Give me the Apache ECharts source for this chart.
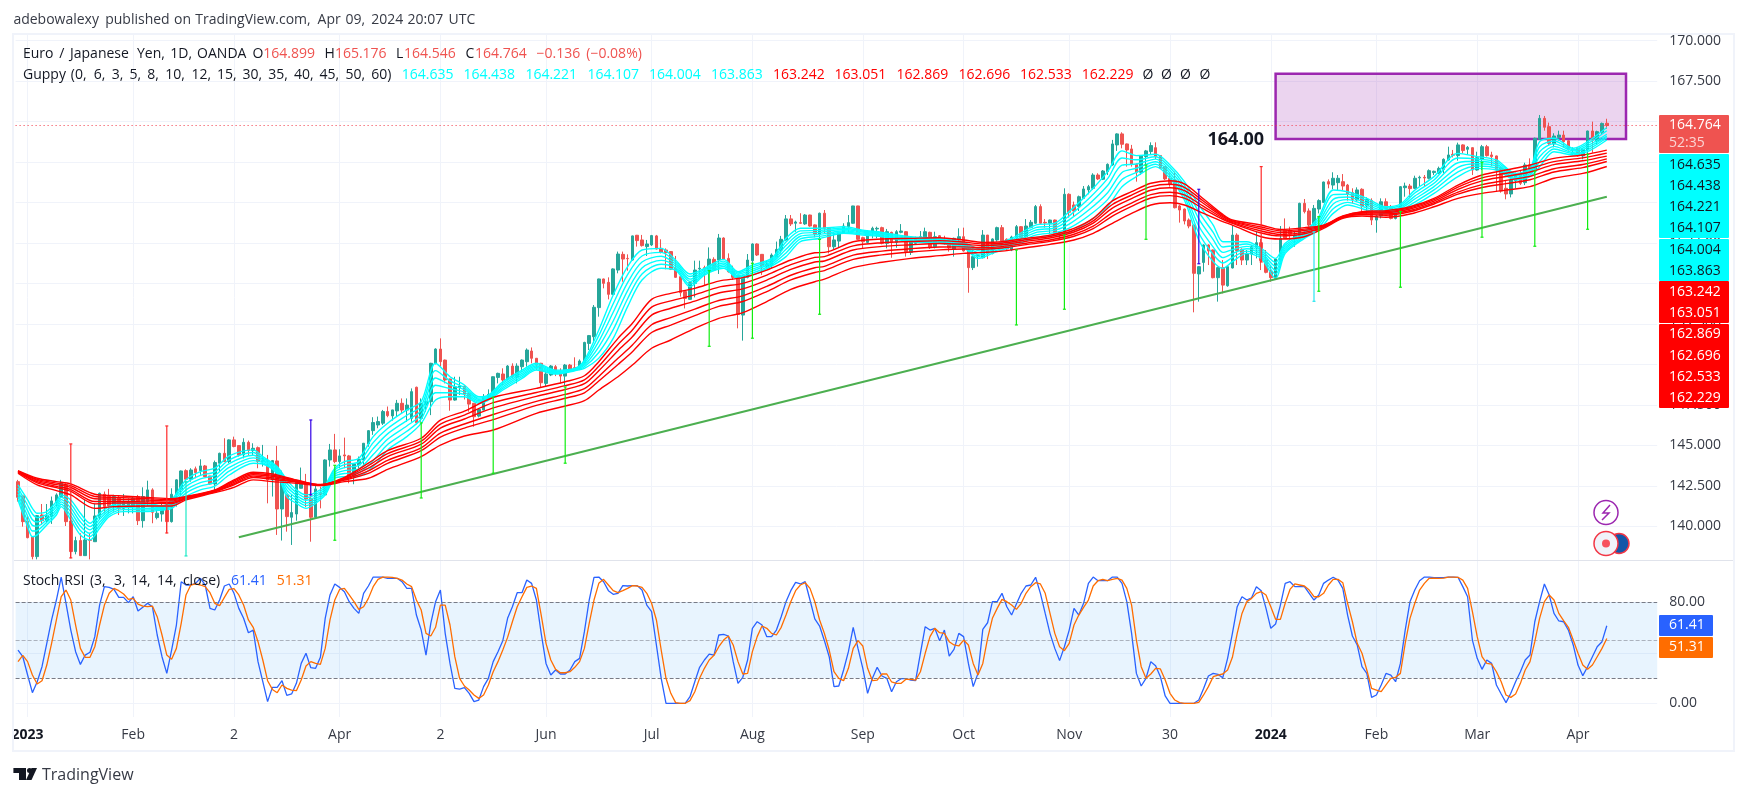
<!DOCTYPE html>
<html>
<head>
<meta charset="utf-8">
<title>EUR/JPY 1D</title>
<script src="https://cdn.jsdelivr.net/npm/echarts@6/dist/echarts.min.js"></script>
<style>
  html, body { margin: 0; padding: 0; background: #fff; }
  #chart1 { width: 1747px; height: 796px; }
</style>
</head>
<body>
<div id="chart1"></div>
<script>
// Velas diarias EUR/JPY: [open, close, low, high]
const velas = [
[142.76,141.79,141.53,142.87],[141.88,140.29,139.98,141.94],[140.33,139.30,139.26,140.70],[139.34,138.13,137.96,139.36],[138.13,140.66,137.96,140.70],
[140.70,140.35,140.08,141.38],[140.35,140.64,140.19,141.38],[140.60,141.57,140.15,141.84],[141.53,141.94,141.22,142.04],[141.84,142.66,141.79,142.87],
[142.56,140.29,140.02,142.66],[140.33,138.44,138.03,140.50],[138.44,139.12,138.27,139.36],[139.12,138.19,138.19,139.57],[138.19,139.16,138.19,141.67],
[139.16,139.14,137.96,139.57],[139.05,140.64,139.05,141.42],[140.60,142.04,140.39,142.08],[141.98,141.22,140.80,142.15],[141.84,141.26,140.80,142.31],
[141.22,141.84,140.91,141.94],[141.77,141.11,140.70,141.88],[141.11,141.53,140.64,142.00],[141.18,141.53,140.80,141.73],[141.22,141.73,140.80,141.84],
[141.84,140.35,140.08,141.94],[140.35,141.84,139.92,142.41],[141.53,142.25,141.22,142.82],[142.25,140.87,140.19,142.35],[140.54,140.81,140.43,141.11],
[140.76,141.26,140.29,141.42],[141.22,140.29,139.57,141.30],[140.29,141.98,140.23,142.35],[141.98,142.87,141.22,142.91],[142.29,143.42,141.94,143.45],
[143.44,142.91,142.66,143.52],[142.91,143.48,142.76,143.59],[143.55,143.32,142.97,143.69],[143.44,143.73,143.18,144.14],[143.73,143.07,143.03,143.79],
[143.11,142.62,142.56,143.11],[142.62,143.94,142.14,144.06],[143.90,144.51,143.38,144.55],[144.51,144.00,144.00,145.44],[144.00,145.34,143.90,145.38],
[145.34,144.93,144.88,145.54],[144.99,144.41,144.31,145.00],[144.41,145.19,144.20,145.44],[145.19,144.68,144.41,145.30],[144.68,144.82,144.41,145.13],
[144.86,144.00,143.59,144.93],[144.00,144.10,143.69,145.03],[143.75,142.87,141.42,144.41],[142.87,144.06,141.84,144.10],[144.04,141.07,139.47,144.97],
[141.07,142.76,139.12,143.44],[141.94,140.60,139.67,141.98],[140.56,140.85,138.85,141.94],[140.76,142.76,140.35,142.80],[142.35,142.76,142.35,143.63],
[142.66,141.69,141.18,143.24],[141.73,140.56,139.05,142.62],[140.56,142.31,140.56,142.49],[142.04,141.94,141.11,142.45],[141.94,144.10,141.90,144.14],
[144.10,144.72,143.69,145.09],[144.72,144.00,143.90,145.71],[144.00,144.35,143.59,144.76],[144.41,144.35,143.59,145.48],[144.35,143.11,142.66,144.41],
[143.11,143.85,142.60,143.90],[143.79,144.14,143.59,144.31],[144.10,145.13,143.79,145.15],[145.09,145.91,144.92,145.95],[145.91,146.41,145.65,146.74],
[146.26,146.47,146.06,146.78],[146.37,147.09,146.26,147.19],[147.09,146.84,146.74,147.40],[146.82,147.19,146.53,147.20],[147.13,147.60,146.78,147.81],
[147.60,147.18,147.00,147.90],[147.18,147.49,146.46,147.90],[146.67,148.32,146.46,148.52],[148.59,146.40,146.30,148.63],[146.67,147.60,146.46,147.90],
[147.49,147.70,147.08,147.90],[147.70,150.07,146.87,150.10],[150.07,150.95,150.00,151.00],[150.95,150.17,149.86,151.61],[150.27,149.04,148.83,150.30],
[149.10,147.80,147.14,149.12],[147.80,148.62,147.76,149.24],[148.58,148.66,148.11,149.24],[148.66,148.17,147.84,148.70],[148.21,147.55,147.08,148.25],
[147.60,146.77,146.15,147.62],[146.81,147.22,146.73,147.29],[147.18,148.00,147.18,148.17],[147.96,148.15,147.90,148.46],[148.11,149.24,148.01,149.26],
[149.20,149.45,148.83,149.49],[149.41,149.04,148.73,149.76],[149.08,149.90,149.04,149.96],[149.90,149.24,149.14,150.07],[149.24,149.90,148.83,150.07],
[149.86,150.27,149.55,150.31],[150.17,150.89,149.86,150.99],[150.83,150.38,150.07,151.05],[150.38,149.96,149.65,150.40],[150.07,148.87,148.58,150.10],
[148.83,149.41,148.62,149.61],[149.35,149.90,149.28,149.96],[149.86,149.49,149.28,149.96],[149.55,149.28,148.83,149.76],[149.28,149.96,148.73,150.03],
[149.96,149.65,149.61,150.03],[149.80,149.72,149.65,150.44],[149.72,150.21,149.65,150.31],[150.13,151.36,150.07,151.40],[151.30,151.78,150.89,151.82],
[151.71,153.53,151.40,153.67],[153.51,155.28,152.95,155.30],[155.28,155.01,154.70,155.30],[155.07,154.33,154.02,155.38],[154.33,155.90,154.29,155.94],
[155.83,156.82,155.63,156.97],[156.80,156.51,155.11,156.97],[156.55,156.53,155.79,156.80],[156.45,157.94,156.41,157.96],[157.98,157.65,157.28,158.00],
[157.69,157.34,157.28,158.00],[157.28,157.44,156.70,157.69],[157.38,157.96,157.32,158.00],[157.94,157.13,157.10,158.00],[157.17,156.93,156.86,157.73],
[157.07,156.91,155.88,157.17],[156.97,155.88,155.83,157.00],[155.94,155.38,155.36,156.70],[155.42,154.43,154.19,155.46],[154.50,154.08,153.46,154.50],
[154.02,155.05,153.98,155.07],[155.01,155.83,154.14,156.41],[155.90,155.94,155.42,156.41],[155.98,155.88,154.91,156.10],[155.83,156.51,155.01,157.23],
[156.49,155.83,155.79,156.62],[156.45,157.81,155.59,158.06],[157.81,156.49,156.45,157.85],[156.55,155.73,155.67,156.86],[155.77,155.38,155.22,156.10],
[155.46,153.09,152.23,155.50],[153.05,155.46,151.47,155.50],[155.38,156.45,155.32,156.82],[156.41,157.44,155.73,157.48],[157.44,156.76,156.70,157.48],
[156.80,156.10,155.53,156.82],[156.08,156.20,155.94,156.41],[156.10,156.76,155.94,156.86],[156.66,157.11,156.62,157.59],[157.07,157.73,156.86,157.94],
[157.69,158.99,157.65,159.23],[158.99,158.68,158.55,159.23],[158.72,158.80,158.20,158.88],[158.76,158.72,158.68,159.34],[158.68,159.23,158.62,159.29],
[159.23,158.55,158.51,159.25],[158.62,158.06,157.85,158.65],[158.04,159.34,157.79,159.38],[159.34,158.41,158.10,159.54],[158.41,157.27,156.86,158.45],
[157.27,157.69,157.13,158.16],[157.62,158.10,157.21,158.20],[158.10,158.55,158.08,158.72],[158.51,158.76,158.10,159.23],[158.72,159.79,158.70,159.80],
[159.79,157.73,157.69,159.80],[157.83,157.58,157.13,157.89],[157.54,158.20,157.48,158.30],[158.16,158.41,157.79,158.51],[158.37,158.41,157.79,158.51],
[158.45,157.48,157.42,158.51],[157.48,158.20,157.17,158.37],[158.16,157.58,156.59,158.20],[157.54,158.20,157.21,158.30],[158.16,158.24,158.10,158.67],
[158.20,156.97,156.66,158.24],[156.92,157.69,156.76,157.79],[157.48,157.79,157.42,157.89],[157.79,157.89,157.62,158.24],[157.83,158.20,157.79,158.45],
[158.16,157.21,157.13,158.20],[157.27,157.89,157.17,158.20],[157.95,157.58,157.54,157.99],[157.69,157.48,157.38,157.95],[157.54,157.21,156.97,157.69],
[157.13,157.79,156.66,157.83],[157.69,157.89,157.38,158.41],[157.89,157.01,156.97,158.45],[157.07,155.98,154.43,157.10],[155.98,156.66,155.83,157.07],
[156.66,156.72,156.04,156.76],[156.59,157.99,156.55,158.30],[157.99,156.86,156.51,158.00],[156.86,157.75,156.80,157.79],[157.69,158.45,157.58,158.51],
[158.45,157.62,157.58,158.61],[157.73,157.13,157.07,157.79],[157.07,157.87,157.00,157.95],[157.83,158.51,157.69,158.61],[158.51,157.83,157.79,158.55],
[157.89,158.55,157.83,158.98],[158.47,158.78,158.41,158.92],[158.72,159.75,158.68,159.85],[159.75,158.72,158.68,159.89],[158.78,158.74,158.45,158.98],
[158.72,158.92,158.04,158.95],[158.92,158.10,157.99,158.95],[158.10,158.16,157.69,158.20],[158.16,160.51,157.69,160.88],[160.51,159.40,159.07,160.57],
[159.85,159.48,159.13,160.06],[159.75,160.36,159.48,160.43],[160.26,160.84,160.22,161.02],[160.78,160.98,160.51,161.09],[160.88,161.70,160.78,161.81],
[161.70,161.46,161.39,161.81],[161.44,161.95,161.39,162.01],[161.91,162.36,161.70,162.42],[162.32,163.62,162.28,163.87],[163.56,164.24,163.19,164.28],
[164.24,163.60,163.35,164.34],[163.62,163.25,162.22,163.65],[163.31,162.36,162.22,163.56],[162.36,161.87,161.29,162.42],[161.87,162.90,161.70,162.94],
[162.84,163.19,162.32,163.25],[163.15,163.52,162.94,163.72],[163.39,162.84,162.69,163.72],[162.90,162.12,162.07,162.92],[162.22,161.46,161.39,162.25],
[161.50,161.13,160.98,161.81],[161.39,159.68,159.64,161.91],[159.79,159.54,158.76,159.85],[159.60,158.86,158.65,159.63],[158.92,158.55,158.41,159.02],
[158.61,155.63,153.22,158.65],[155.59,156.04,153.88,156.07],[156.30,157.38,155.73,157.42],[157.38,157.01,156.14,157.42],[157.07,155.36,155.32,157.10],
[155.36,155.98,153.88,156.04],[155.98,154.90,154.39,156.45],[154.86,156.04,154.80,156.07],[155.96,157.99,155.93,158.61],[157.99,157.03,156.14,158.10],
[157.11,156.45,156.14,157.17],[156.45,156.86,156.14,157.07],[156.82,157.27,156.14,157.38],[157.23,157.52,156.55,158.20],[157.52,156.41,155.83,157.75],
[156.45,155.69,155.63,157.07],[155.73,155.36,155.11,156.14],[155.32,156.51,155.30,156.55],[156.45,157.79,156.41,158.55],[158.30,157.79,157.75,159.02],
[158.26,158.05,157.69,158.51],[157.79,157.99,157.27,158.20],[157.89,159.95,157.85,159.99],[159.95,159.44,159.33,160.22],[159.48,158.61,158.51,159.64],
[158.61,159.64,158.51,159.85],[159.60,160.12,159.33,160.20],[160.01,161.27,159.99,161.29],[161.29,161.14,160.88,161.43],[161.08,161.50,160.82,161.87],
[161.23,161.50,160.77,161.70],[161.29,161.02,160.77,161.76],[161.08,160.53,160.12,161.15],[160.61,160.20,159.95,160.88],[160.16,160.78,160.12,160.94],
[160.82,159.79,159.44,160.88],[159.79,160.20,159.23,160.32],[160.12,158.92,158.61,160.26],[158.92,159.17,158.14,159.23],[159.17,160.05,159.02,160.26],
[160.05,159.64,159.58,160.26],[159.70,159.02,158.96,159.85],[159.02,159.58,158.96,159.64],[159.58,160.98,159.54,161.02],[160.92,161.02,160.36,161.23],
[161.02,160.86,160.32,161.15],[160.88,161.50,160.84,161.66],[161.52,161.56,161.02,161.66],[161.56,161.52,160.98,161.70],[161.50,161.97,161.43,162.05],
[161.85,161.93,161.70,161.97],[161.81,162.11,161.76,162.22],[162.05,162.67,161.81,162.73],[162.63,162.94,162.59,163.45],[162.98,162.92,162.79,163.25],
[162.90,163.56,162.59,163.70],[163.56,163.21,163.04,163.60],[163.29,163.41,162.94,163.49],[163.39,162.01,161.70,163.41],[162.01,162.77,161.97,163.14],
[162.69,163.45,162.01,163.56],[163.45,162.90,162.84,163.56],[162.94,162.84,162.26,163.14],[162.88,162.01,160.67,162.90],[162.12,160.71,160.61,162.18],
[160.88,160.53,160.20,161.39],[160.53,161.39,160.32,161.64],[161.35,161.70,160.88,161.85],[161.74,161.19,161.08,161.97],[161.23,162.32,161.08,162.46],
[162.32,162.11,161.97,162.73],[162.07,163.97,161.97,164.01],[163.91,165.20,163.87,165.41],[165.20,164.65,164.44,165.35],[164.69,163.66,163.56,164.94],
[163.62,164.11,163.41,164.28],[164.03,164.17,163.82,164.44],[164.17,163.76,163.41,164.44],[163.82,163.29,163.21,163.86],[163.25,163.31,162.94,163.41],
[163.35,162.90,162.84,163.41],[162.88,163.29,162.67,163.35],[163.25,164.42,162.59,164.44],[164.42,163.86,163.08,165.00],[163.82,164.38,163.56,164.44],
[164.34,164.89,164.24,164.94],[164.899,164.764,164.546,165.176]
];

// Guppy: cada fila es [indice de vela, linea1 ... linea6]
const guppyCyan = [
[0,142.56,142.37,142.19,142.00,141.82,141.63],[2,141.63,141.30,140.97,140.64,140.31,139.98],[3,141.11,140.76,140.41,140.06,139.71,139.36],[4,140.81,140.54,140.27,140.01,139.74,139.47],
[6,140.91,140.74,140.58,140.41,140.25,140.08],[8,141.53,141.36,141.20,141.03,140.87,140.70],[9,141.94,141.80,141.65,141.51,141.36,141.22],[11,141.63,141.38,141.13,140.89,140.64,140.39],
[13,140.81,140.54,140.27,140.01,139.74,139.47],[15,140.19,139.98,139.78,139.57,139.37,139.16],[17,140.81,140.62,140.44,140.25,140.07,139.88],[19,141.22,141.10,140.97,140.85,140.72,140.60],
[22,141.53,141.41,141.28,141.16,141.03,140.91],[27,141.42,141.32,141.22,141.11,141.01,140.91],[30,141.26,141.21,141.16,141.11,141.06,141.01],[32,141.63,141.53,141.42,141.32,141.21,141.11],
[35,142.87,142.66,142.46,142.25,142.05,141.84],[38,143.38,143.15,142.93,142.70,142.48,142.25],[41,143.59,143.37,143.15,142.93,142.71,142.49],[44,144.35,144.11,143.88,143.64,143.41,143.17],
[49,144.72,144.56,144.39,144.23,144.06,143.90],[51,144.31,144.22,144.13,144.03,143.94,143.85],[54,143.69,143.60,143.51,143.42,143.33,143.24],[56,142.87,142.66,142.46,142.25,142.05,141.84],
[58,142.25,142.08,141.92,141.75,141.59,141.42],[60,141.94,141.77,141.61,141.44,141.28,141.11],[62,142.08,141.95,141.82,141.68,141.55,141.42],[64,142.56,142.44,142.31,142.19,142.06,141.94],
[66,143.59,143.47,143.34,143.22,143.09,142.97],[68,144.00,143.81,143.63,143.44,143.26,143.07],[71,144.20,143.98,143.76,143.55,143.33,143.11],[74,145.54,145.17,144.80,144.43,144.06,143.69],
[77,146.37,146.04,145.71,145.38,145.05,144.72],[81,147.19,146.86,146.53,146.20,145.87,145.54],[84,147.70,147.43,147.16,146.90,146.63,146.36],[87,150.07,149.62,149.16,148.71,148.25,147.80],
[90,149.24,148.99,148.74,148.50,148.25,148.00],[93,148.73,148.58,148.44,148.29,148.15,148.00],[96,148.00,147.92,147.84,147.76,147.68,147.60],[98,148.11,148.05,147.99,147.92,147.86,147.80],
[101,148.93,148.83,148.73,148.62,148.52,148.42],[105,149.65,149.55,149.45,149.34,149.24,149.14],[108,150.07,149.99,149.90,149.82,149.73,149.65],[112,149.65,149.60,149.55,149.51,149.46,149.41],
[116,149.76,149.73,149.70,149.67,149.64,149.61],[118,150.27,150.17,150.07,149.96,149.86,149.76],[121,152.13,151.78,151.43,151.09,150.74,150.39],[124,154.29,153.75,153.22,152.68,152.15,151.61],
[127,156.04,155.55,155.05,154.56,154.06,153.57],[130,157.07,156.70,156.33,155.96,155.59,155.22],[134,157.17,156.92,156.68,156.43,156.19,155.94],[137,156.45,156.33,156.20,156.08,155.95,155.83],
[140,155.59,155.43,155.27,155.12,154.96,154.80],[143,155.94,155.86,155.77,155.69,155.60,155.52],[147,156.49,156.38,156.27,156.16,156.05,155.94],[150,155.73,155.65,155.57,155.48,155.40,155.32],
[153,156.14,156.02,155.89,155.77,155.64,155.52],[157,156.55,156.46,156.36,156.27,156.17,156.08],[160,157.79,157.56,157.34,157.11,156.89,156.66],[163,158.41,158.25,158.08,157.92,157.75,157.59],
[167,158.41,158.28,158.16,158.03,157.91,157.78],[172,158.51,158.43,158.35,158.26,158.18,158.10],[176,158.30,158.24,158.18,158.11,158.05,157.99],[180,158.16,158.11,158.05,158.00,157.94,157.89],
[186,157.89,157.83,157.77,157.70,157.64,157.58],[192,157.79,157.73,157.67,157.60,157.54,157.48],[197,157.54,157.47,157.41,157.34,157.28,157.21],[200,157.17,157.05,156.92,156.80,156.67,156.55],
[203,157.38,157.28,157.17,157.07,156.96,156.86],[207,157.79,157.69,157.58,157.48,157.37,157.27],[212,158.61,158.45,158.30,158.14,157.99,157.83],[216,158.72,158.57,158.43,158.28,158.14,157.99],
[219,159.44,159.18,158.93,158.67,158.42,158.16],[223,160.57,160.22,159.87,159.52,159.17,158.82],[227,161.91,161.48,161.05,160.61,160.18,159.75],[230,163.19,162.75,162.31,161.86,161.42,160.98],
[233,162.90,162.64,162.38,162.12,161.86,161.60],[237,162.98,162.83,162.68,162.52,162.37,162.22],[240,162.32,162.16,161.99,161.83,161.66,161.50],[243,161.29,161.06,160.84,160.61,160.39,160.16],
[246,159.85,159.42,158.99,158.55,158.12,157.69],[249,158.61,158.16,157.71,157.25,156.80,156.35],[251,157.58,157.25,156.92,156.60,156.27,155.94],[253,157.58,157.33,157.09,156.84,156.60,156.35],
[256,157.58,157.44,157.29,157.15,157.00,156.86],[259,157.17,157.05,156.92,156.80,156.67,156.55],[262,156.55,156.30,156.06,155.81,155.57,155.32],[264,157.48,157.36,157.23,157.11,156.98,156.86],
[268,158.20,158.12,158.04,157.95,157.87,157.79],[271,159.13,158.96,158.80,158.63,158.47,158.30],[274,160.78,160.49,160.20,159.91,159.62,159.33],[277,160.67,160.51,160.34,160.18,160.01,159.85],
[281,160.26,160.12,159.97,159.83,159.68,159.54],[285,159.74,159.66,159.58,159.49,159.41,159.33],[288,159.91,159.82,159.72,159.63,159.53,159.44],[291,160.77,160.59,160.40,160.22,160.03,159.85],
[295,161.60,161.39,161.19,160.98,160.78,160.57],[300,163.04,162.75,162.46,162.18,161.89,161.60],[304,162.84,162.69,162.55,162.40,162.26,162.11],[308,162.63,162.51,162.38,162.26,162.13,162.01],
[312,161.80,161.72,161.64,161.55,161.47,161.39],[315,162.11,162.01,161.91,161.80,161.70,161.60],[317,163.76,163.45,163.14,162.83,162.52,162.21],[320,163.97,163.80,163.64,163.47,163.31,163.14],
[324,163.35,163.27,163.19,163.10,163.02,162.94],[327,163.76,163.64,163.51,163.39,163.26,163.14],[331,164.635,164.438,164.221,164.107,164.004,163.863]
];

const guppyRed = [
[0,143.44,143.41,143.39,143.36,143.33,143.28],[4,142.97,142.90,142.84,142.76,142.69,142.56],[8,142.76,142.67,142.58,142.47,142.39,142.21],[11,142.62,142.51,142.40,142.27,142.16,141.94],
[16,141.98,141.84,141.70,141.53,141.39,141.11],[20,141.90,141.79,141.68,141.55,141.44,141.22],[27,141.79,141.71,141.62,141.51,141.43,141.26],[32,141.71,141.64,141.57,141.48,141.40,141.26],
[35,141.84,141.81,141.77,141.73,141.70,141.63],[41,142.25,142.22,142.20,142.16,142.13,142.08],[45,142.87,142.80,142.72,142.63,142.56,142.41],[49,143.34,143.26,143.19,143.10,143.02,142.87],
[53,143.24,143.16,143.09,142.99,142.91,142.76],[58,142.87,142.84,142.80,142.76,142.73,142.66],[63,142.58,142.57,142.56,142.55,142.54,142.52],[68,143.03,142.99,142.94,142.89,142.85,142.76],
[73,143.90,143.75,143.60,143.42,143.27,142.97],[77,144.68,144.49,144.31,144.08,143.89,143.52],[84,145.44,145.26,145.08,144.85,144.67,144.31],[88,146.56,146.31,146.07,145.76,145.51,145.02],
[93,147.12,146.87,146.63,146.32,146.07,145.58],[99,147.96,147.64,147.32,146.91,146.59,145.95],[108,148.52,148.27,148.03,147.72,147.47,146.98],[114,148.93,148.69,148.45,148.15,147.91,147.43],
[118,149.30,149.05,148.81,148.50,148.25,147.76],[121,150.17,149.89,149.61,149.26,148.98,148.42],[125,151.61,151.23,150.85,150.38,150.00,149.24],[128,152.54,152.13,151.71,151.20,150.79,149.96],
[132,154.02,153.54,153.05,152.45,151.97,151.00],[136,154.39,153.93,153.47,152.89,152.43,151.51],[141,154.70,154.30,153.91,153.42,153.02,152.23],[146,155.15,154.78,154.41,153.95,153.59,152.85],
[151,155.36,155.01,154.67,154.24,153.89,153.20],[156,155.83,155.52,155.21,154.82,154.50,153.88],[161,156.45,156.16,155.87,155.51,155.22,154.64],[166,156.90,156.61,156.33,155.97,155.68,155.11],
[168,156.92,156.66,156.39,156.06,155.80,155.27],[174,157.58,157.32,157.07,156.75,156.49,155.98],[180,157.75,157.52,157.29,157.00,156.77,156.31],[186,157.79,157.59,157.39,157.15,156.95,156.55],
[192,157.83,157.65,157.47,157.25,157.08,156.72],[197,157.69,157.56,157.42,157.26,157.13,156.86],[201,157.54,157.44,157.34,157.22,157.12,156.92],[205,157.58,157.49,157.39,157.28,157.19,157.00],
[210,157.79,157.70,157.60,157.49,157.40,157.21],[215,157.99,157.90,157.81,157.69,157.60,157.42],[220,158.41,158.29,158.18,158.04,157.92,157.69],[224,159.02,158.87,158.73,158.54,158.39,158.10],
[228,160.10,159.88,159.66,159.38,159.16,158.72],[232,160.67,160.46,160.24,159.97,159.76,159.33],[236,161.19,160.98,160.76,160.49,160.28,159.85],[240,161.35,161.13,160.91,160.64,160.43,159.99],
[243,161.15,160.94,160.73,160.47,160.27,159.85],[247,160.22,160.08,159.94,159.76,159.61,159.33],[251,159.27,159.20,159.13,159.04,158.96,158.82],[253,158.92,158.87,158.82,158.76,158.71,158.61],
[259,158.61,158.49,158.38,158.24,158.12,157.89],[263,158.34,158.25,158.15,158.03,157.94,157.75],[268,158.45,158.36,158.27,158.16,158.07,157.89],[272,158.61,158.58,158.54,158.50,158.47,158.40],
[276,159.17,159.15,159.12,159.09,159.07,159.02],[280,159.44,159.40,159.35,159.30,159.26,159.17],[285,159.50,159.43,159.37,159.29,159.22,159.09],[290,159.74,159.67,159.60,159.51,159.43,159.29],
[295,160.26,160.18,160.09,159.99,159.91,159.74],[300,161.08,160.95,160.82,160.65,160.52,160.26],[305,161.70,161.52,161.34,161.11,160.93,160.57],[310,162.01,161.81,161.61,161.37,161.17,160.77],
[315,162.32,162.11,161.89,161.62,161.41,160.98],[320,162.73,162.53,162.34,162.09,161.89,161.50],[326,162.94,162.76,162.58,162.35,162.16,161.80],[331,163.242,163.051,162.869,162.696,162.533,162.229]
];

// Lineas verticales dibujadas a mano por el autor: [indice, arriba, abajo, color]
const verticales = [
[11,145.09,138.05,'#ff2a2a'],[31,146.20,139.59,'#ff2a2a'],[35,142.76,138.17,'#1de9c6'],[61,146.57,141.94,'#3300e6'],
[66,143.77,139.14,'#11ee11'],[84,146.39,141.75,'#11ee11'],[99,147.97,143.28,'#11ee11'],[114,148.61,143.90,'#11ee11'],
[144,155.79,151.12,'#11ee11'],[153,156.25,151.62,'#11ee11'],[167,157.73,153.10,'#11ee11'],[208,157.07,152.44,'#11ee11'],
[218,158.00,153.41,'#11ee11'],[235,162.32,157.73,'#11ee11'],[246,160.82,156.22,'#3300e6'],[259,162.22,156.33,'#ff2a2a'],
[270,158.20,153.90,'#29e6f0'],[271,159.13,154.52,'#11ee11'],[288,159.44,154.77,'#11ee11'],[305,162.49,157.86,'#11ee11'],
[316,161.95,157.30,'#11ee11'],[327,162.98,158.35,'#11ee11']
];

// Stoch RSI, un valor por vela
const stochK = [
42.2,36.9,22.4,8.4,17.1,29,47.5,66,81.8,100,79.2,58,40.9,30.8,38.2,40.4,52.8,77.8,92.4,91.8,
90.2,83.9,83.9,79.7,84.4,73.1,76,79.2,76.5,54.1,36.9,23.7,42.2,62,96.3,93.7,93.7,95,99,93.7,
75.2,73.9,81.8,92.9,94.5,87.1,75.2,67.3,55.9,58,33,17.1,1.3,12.6,12.6,17.9,6.3,7.4,15.8,31.6,
39.6,28.2,27.7,36.4,67.3,85.8,94.5,91.8,88.4,80.5,75.2,71.2,87.1,92.9,100,100,100,99,99,99,
96.3,91,91,69.9,58,38.2,63.3,80.5,89.7,55.4,31.6,11.8,11.3,12.4,7.9,1.3,2.6,13.2,19.8,33,
40.9,49.6,67.3,76.5,87.6,87.6,97.6,95,81.8,55.4,31.6,22.4,26.4,23.2,23.2,26.4,33,35.6,56.7,81.8,
99.8,100,
96.3,89.2,86.3,87.1,93.2,92.9,93.2,93.2,89.7,77.8,72.6,46.2,19.8,0,0,0,0,0,5.2,17.1,
28.5,34.3,39,38.2,54.1,54.6,53.3,33,15.8,20.6,34.3,59.4,64.6,62,52.8,52.8,58,68.6,80.5,89.2,
95.8,94.5,96.3,81.8,66.8,61.2,49.6,36.9,13.2,13.7,26.4,40.9,60.2,43.5,27.7,7.9,19.8,28.5,21.6,19.8,
9.2,17.1,19.5,19.5,18.4,17.9,39.6,60.7,58,59.4,49.6,58,37.4,42.7,55.4,52.8,31.6,13.2,23.7,58.6,
63.8,80.5,80.5,87.1,76.5,69.9,78.6,87.1,92.9,93.7,99.8,87.1,71.2,55.4,43.5,33.8,44.8,58,75.2,69.9,
79.2,95,100,97.1,97.1,97.1,100,100,95,80.5,55.4,23.7,13.7,19.8,33,29.8,21.1,5.8,0,0,
0,0,0,0,2.6,
11.8,21.6,23.7,22.9,20.3,35.6,55.4,76.5,84.4,81.8,83.6,92.4,89.2,75.2,59.4,62.8,77.8,95,96.3,92.4,
92.4,92.4,87.1,81.8,85.8,95,97.6,99.8,97.6,91,69.9,53.3,46.2,29,23.7,4.7,6.6,14.5,23.7,22.4,
17.1,31.6,58,80.5,89.7,97.1,100,100,99.5,99.5,99.5,100,100,99.8,92.4,84.4,50.1,35.6,26.9,34.3,
31.6,14.5,7.4,0.5,7.9,17.1,25,34.3,38.2,64.6,80.5,94.5,85.8,71.2,65.2,64.6,58,46.2,30.3,21.9,
29,36.9,44.8,48.8,61.41
];
const stochD = [
33,38,33,22.4,15.3,17.9,30.3,47.5,66,84.4,89.7,81.8,62,43.5,36.4,36.4,44.8,62,77.8,87.1,
91,89.2,86.6,82.3,83.1,78.6,77,76.5,77,68.6,54.1,38.2,34.8,43.5,63.3,85.8,93.7,94.5,93.7,92.4,
87.6,79.2,77.3,83.9,90.2,90.8,85.8,77.8,66,60.2,48.8,34.3,17.9,11,8.4,14.5,11.8,10.5,10,18.4,
29.5,33,31.6,30.8,43.5,66,81.8,90.2,91,85.8,80.5,74.4,76.5,83.1,92.4,98.2,100,100,99.8,99,
97.6,94.5,92.4,81.8,73.9,55.4,53.3,60.2,77.8,77.8,62,36.9,19.8,13.7,10.5,6.6,3.9,6.6,14.5,25,
33,42.2,52.2,64.6,76.5,84.4,91.8,92.9,91,69.9,47.5,34.3,26.9,24.2,24.2,25,28.5,33,43.5,63.3,
81.8,95,
98.2,93.7,89.2,87.6,89.2,91,93.2,92.9,91.8,87.1,79.2,66,42.2,19.8,7.9,0.5,0,0,2.1,9.2,
19.8,27.7,34.3,38,44.8,50.1,53.3,46.2,33,23.2,23.7,40.9,52.8,61.2,59.4,55.4,54.1,60.2,69.9,80.5,
89.2,93.7,95.5,91,80.5,66,55.4,42.2,25,19.8,17.9,27.7,43.5,49.6,45.4,27.7,17.9,18.4,23.2,23.2,
16.9,15.8,15.8,19,19,18.4,25,39.6,52.8,59.4,55.9,55.4,48.8,46.2,45.4,50.1,46.2,31.6,22.4,31.6,
51.4,67.3,75.2,82.3,80.5,77.8,74.4,79.2,87.1,92.4,95.5,94.5,87.1,71.2,55.4,44.8,41.7,47.5,62,69.9,
76,81.8,92.9,97.1,98.2,97.1,98.2,99,97.6,91,77.8,50.1,29,19.8,23.2,27.7,27.2,18.4,7.9,2.6,
0.5,0,0,0,0.8,
6.6,13.2,21.1,22.4,23.2,26.4,36.4,55.4,71.2,80.5,83.1,87.1,88.4,85.8,76.5,66.5,66.5,79.2,90.2,94.5,
93.7,92.9,89.7,84.4,84.4,87.1,93.7,98.2,98.2,95.5,79.2,64.6,47.5,39.6,26.4,11.8,10.5,9.2,14.5,19.8,
20.6,23.7,47.5,67.3,79.2,89.7,95,99,99.2,99,99.2,100,100,99.8,97.6,91,72.6,52.8,36.9,31.6,
31.1,25,17.1,6.6,4.7,7.4,15.8,26.4,33,48.8,67.3,80.5,85.8,81.8,71.2,65.4,60.2,50.1,39.6,30.3,
26.9,30.3,36.9,43.5,51.31
];

// Fechas: solo dias laborables desde 29 dic 2022, mas huecos a la derecha
const fechas = [];
for (let d = new Date(Date.UTC(2022, 11, 29)); fechas.length < 342; d.setUTCDate(d.getUTCDate() + 1)) {
    if (d.getUTCDay() !== 0 && d.getUTCDay() !== 6) fechas.push(d.toISOString().slice(0, 10));
}

const etiquetasX = { 2: '{b|2023}', 24: 'Feb', 45: '2', 67: 'Apr', 88: '2', 110: 'Jun', 132: 'Jul', 153: 'Aug',
    176: 'Sep', 197: 'Oct', 219: 'Nov', 240: '30', 261: '{b|2024}', 283: 'Feb', 304: 'Mar', 325: 'Apr' };

const FUENTE = '"Open Sans", sans-serif';
const GRID_LINE = '#f0f3fa';

const serieGuppy = (filas, color, col) => ({
    type: 'line', xAxisIndex: 0, yAxisIndex: 0, z: 4,
    data: filas.map(f => [f[0], f[col]]),
    showSymbol: false, silent: true, smooth: 0.3,
    lineStyle: { color, width: 1.4 }
});

const tag = (y0, h, color, textos, ancho = 70, colorTexto = '#fff') => [
    { type: 'rect', z: 50, shape: { x: 1659, y: y0, width: ancho, height: h, r: 1 }, style: { fill: color } },
    ...textos.map(t => ({ type: 'text', z: 51, style: { x: 1669, y: t[1], text: t[0], fill: t[2] || colorTexto,
        font: `14px ${FUENTE}`, verticalAlign: 'middle' } }))
];

const texto = (x, y, text, fill = '#131722', font = `14px ${FUENTE}`) => ({
    type: 'text', z: 40, style: { x, y, text, fill, font, verticalAlign: 'middle' }
});

// El texto original usa espacios mas anchos: cada palabra va en su sitio
const palabras = (y, lista, fill) => lista.map(p => texto(p[0], y, p[1], fill));

const cianos = [[401.8, '164.635'], [463.4, '164.438'], [525.4, '164.221'], [587.4, '164.107'], [649, '164.004'], [711, '163.863']];
const rojos = [[773, '163.242'], [834.6, '163.051'], [896.6, '162.869'], [958.6, '162.696'], [1020, '162.533'], [1081.8, '162.229']];

const option = {
    animation: false,
    backgroundColor: '#ffffff',
    grid: [
        { left: 15.6, width: 1641.6, top: 35, height: 525 },
        { left: 15.6, width: 1641.6, top: 560.5, height: 156.5 }
    ],
    xAxis: [
        {
            type: 'category', gridIndex: 0, data: fechas,
            axisLine: { show: false }, axisTick: { show: false }, axisLabel: { show: false },
            splitLine: { show: true, alignWithLabel: true, interval: i => i in etiquetasX, lineStyle: { color: GRID_LINE, width: 1 } }
        },
        {
            type: 'category', gridIndex: 1, data: fechas,
            axisLine: { show: false }, axisTick: { show: false },
            axisLabel: {
                interval: i => i in etiquetasX,
                formatter: (v, i) => etiquetasX[i] || '',
                color: '#363a45', fontFamily: FUENTE, fontSize: 14, margin: 11,
                rich: { b: { fontWeight: 'bold', color: '#131722', fontFamily: FUENTE, fontSize: 14 } }
            },
            splitLine: { show: true, alignWithLabel: true, interval: i => i in etiquetasX, lineStyle: { color: GRID_LINE, width: 1 } }
        }
    ],
    yAxis: [
        {
            type: 'value', gridIndex: 0, position: 'right', min: 137.92, max: 170.35, scale: true,
            axisLine: { show: false },
            axisTick: { show: false, customValues: [140, 142.5, 145, 147.5, 150, 152.5, 155, 157.5, 160, 162.5, 165, 167.5, 170] },
            axisLabel: {
                customValues: [140, 142.5, 145, 147.5, 150, 152.5, 155, 157.5, 160, 162.5, 165, 167.5, 170],
                formatter: v => v.toFixed(3), color: '#363a45', fontFamily: FUENTE, fontSize: 14, margin: 12
            },
            splitLine: { show: true, lineStyle: { color: GRID_LINE, width: 1 } }
        },
        {
            type: 'value', gridIndex: 1, position: 'right', min: -10.85, max: 113.1,
            axisLine: { show: false },
            axisTick: { show: false, customValues: [0, 40, 80] },
            axisLabel: {
                customValues: [0, 40, 80],
                formatter: v => v.toFixed(2), color: '#363a45', fontFamily: FUENTE, fontSize: 14, margin: 12
            },
            splitLine: { show: true, lineStyle: { color: GRID_LINE, width: 1 } }
        }
    ],
    series: [
        {
            type: 'candlestick', xAxisIndex: 0, yAxisIndex: 0, z: 3, data: velas, barWidth: 3,
            itemStyle: { color: '#26a69a', color0: '#ef5350', borderColor: '#26a69a', borderColor0: '#ef5350', borderWidth: 1 },
            markLine: {
                silent: true, symbol: 'none', label: { show: false },
                lineStyle: { color: '#f23645', type: [1, 3], width: 1 },
                data: [{ yAxis: 164.764 }]
            },
            markArea: {
                silent: true,
                itemStyle: { color: 'rgba(156,39,176,0.2)', borderColor: '#9c27b0', borderWidth: 2.5 },
                data: [[{ xAxis: fechas[262], yAxis: 167.96 }, { xAxis: fechas[335], yAxis: 163.93 }]]
            }
        },
        ...[1, 2, 3, 4, 5, 6].map(c => serieGuppy(guppyCyan, '#00ffff', c)),
        ...[1, 2, 3, 4, 5, 6].map(c => serieGuppy(guppyRed, '#ff0000', c)),
        {
            // linea de tendencia
            type: 'line', xAxisIndex: 0, yAxisIndex: 0, z: 5, showSymbol: false, silent: true,
            data: [[46, 139.32], [331, 160.36]],
            lineStyle: { color: '#4caf50', width: 2 }
        },
        {
            type: 'custom', xAxisIndex: 0, yAxisIndex: 0, z: 6, silent: true, clip: true,
            data: verticales, encode: { x: 0, y: [1, 2] },
            renderItem: (params, api) => {
                const a = api.coord([api.value(0), api.value(1)]);
                const b = api.coord([api.value(0), api.value(2)]);
                const st = { stroke: verticales[params.dataIndex][3], lineWidth: 1.2 };
                return {
                    type: 'group', children: [
                        { type: 'line', shape: { x1: a[0], y1: a[1], x2: b[0], y2: b[1] }, style: st },
                        { type: 'line', shape: { x1: a[0] - 1.5, y1: a[1], x2: a[0] + 1.5, y2: a[1] }, style: st },
                        { type: 'line', shape: { x1: b[0] - 1.5, y1: b[1], x2: b[0] + 1.5, y2: b[1] }, style: st }
                    ]
                };
            }
        },
        {
            name: '%K', type: 'line', xAxisIndex: 1, yAxisIndex: 1, z: 4, data: stochK, showSymbol: false, silent: true,
            lineStyle: { color: '#2962ff', width: 1.3 },
            markArea: { silent: true, itemStyle: { color: 'rgba(33,150,243,0.1)' }, data: [[{ yAxis: 20 }, { yAxis: 80 }]] },
            markLine: {
                silent: true, symbol: 'none', label: { show: false },
                data: [
                    { yAxis: 80, lineStyle: { color: '#787b86', type: 'dashed', width: 1 } },
                    { yAxis: 50, lineStyle: { color: 'rgba(120,123,134,0.55)', type: 'dashed', width: 1 } },
                    { yAxis: 20, lineStyle: { color: '#787b86', type: 'dashed', width: 1 } }
                ]
            }
        },
        {
            name: '%D', type: 'line', xAxisIndex: 1, yAxisIndex: 1, z: 5, data: stochD, showSymbol: false, silent: true,
            lineStyle: { color: '#ff6d00', width: 1.3 }
        }
    ],
    graphic: [
        // marco y separador
        { type: 'rect', z: 1, silent: true, shape: { x: 13, y: 34, width: 1721, height: 717 }, style: { fill: 'none', stroke: '#f0f3fa', lineWidth: 2 } },
        { type: 'line', z: 10, silent: true, shape: { x1: 14, y1: 560.5, x2: 1733, y2: 560.5 }, style: { stroke: '#e0e3eb', lineWidth: 1 } },

        ...palabras(20, [[13.4, 'adebowalexy'], [105.2, 'published'], [174, 'on'], [195.2, 'TradingView.com,'], [317.6, 'Apr'], [345.6, '09,'], [371.2, '2024'], [407.6, '20:07'], [448.5, 'UTC']], '#363a45'),
        ...palabras(53.7, [[23, 'Euro'], [59.3, '/'], [70, 'Japanese'], [137, 'Yen,'], [170.3, '1D,'], [197.1, 'OANDA']]),
        texto(252.6, 53.7, 'O'), texto(263.3, 53.7, '164.899', '#ef5350'),
        texto(324.5, 53.7, 'H'), texto(334.9, 53.7, '165.176', '#ef5350'),
        texto(396, 53.7, 'L'), texto(404, 53.7, '164.546', '#ef5350'),
        texto(465.4, 53.7, 'C'), texto(475, 53.7, '164.764', '#ef5350'),
        texto(536.5, 53.7, '\u22120.136', '#ef5350'), texto(586.3, 53.7, '(\u22120.08%)', '#ef5350'),
        ...palabras(75, [[23, 'Guppy'], [70.8, '(0,'], [93.8, '6,'], [111.7, '3,'], [129.4, '5,'], [147.3, '8,'], [165.3, '10,'], [191.4, '12,'], [217, '15,'], [242.6, '30,'], [268.3, '35,'], [293.9, '40,'], [319.6, '45,'], [345.6, '50,'], [371.2, '60)']]),
        ...cianos.map(c => texto(c[0], 75, c[1], '#00ffff')),
        ...rojos.map(c => texto(c[0], 75, c[1], '#ff0000')),
        ...[1142.5, 1161, 1180, 1199.4].map(x => texto(x, 75, '\u00d8', '#131722')),
        ...palabras(581, [[23, 'Stoch'], [64.3, 'RSI'], [89.9, '(3,'], [114, '3,'], [130.9, '14,'], [156.9, '14,'], [182.9, 'close)']]),
        texto(231, 581, '61.41', '#2962ff'),
        texto(276.7, 581, '51.31', '#ff6d00'),

        texto(1207.5, 140, '164.00', '#131722', `bold 18px ${FUENTE}`),

        // etiquetas del eje de precios
        ...tag(115, 38, '#ef5350', [['164.764', 125.5], ['52:35', 143.5, 'rgba(255,255,255,0.75)']]),
        ...tag(154, 84, '#00ffff', [['164.635', 165, '#131722'], ['164.438', 186, '#131722'], ['164.221', 207, '#131722'], ['164.107', 228, '#131722']]),
        ...tag(239, 42, '#00ffff', [['164.004', 250, '#131722'], ['163.863', 271, '#131722']]),
        ...tag(281, 42, '#ff0000', [['163.242', 292], ['163.051', 313]]),
        ...tag(324, 84, '#ff0000', [['162.869', 334.5], ['162.696', 355.7], ['162.533', 376.7], ['162.229', 397.7]]),
        ...tag(615, 21, '#2962ff', [['61.41', 625.5]], 54),
        ...tag(637, 21, '#ff6d00', [['51.31', 647.5]], 54),

        // iconos de eventos
        { type: 'circle', z: 30, shape: { cx: 1619, cy: 543.5, r: 10 }, style: { fill: '#1257a8', stroke: '#f23645', lineWidth: 1.5 } },
        { type: 'circle', z: 31, shape: { cx: 1606, cy: 543.5, r: 12 }, style: { fill: '#f0f3fa', stroke: '#f23645', lineWidth: 1.5 } },
        { type: 'circle', z: 32, shape: { cx: 1606, cy: 543.5, r: 4 }, style: { fill: '#f7525f' } },
        { type: 'circle', z: 30, shape: { cx: 1606, cy: 512.5, r: 12 }, style: { fill: '#fff', stroke: '#9c27b0', lineWidth: 1.5 } },
        { type: 'polyline', z: 31, shape: { points: [[1610, 505], [1603, 513], [1609, 513], [1602, 520]] }, style: { fill: 'none', stroke: '#9c27b0', lineWidth: 1.5 } },

        // logo
        { type: 'rect', z: 30, shape: { x: 13.4, y: 768, width: 12.5, height: 5 }, style: { fill: '#131722' } },
        { type: 'rect', z: 30, shape: { x: 19, y: 768, width: 7, height: 12 }, style: { fill: '#131722' } },
        { type: 'circle', z: 30, shape: { cx: 29.5, cy: 770.5, r: 2.5 }, style: { fill: '#131722' } },
        { type: 'polygon', z: 30, shape: { points: [[37, 768], [31.5, 780], [26, 780], [31.5, 768]] }, style: { fill: '#131722' } },
        texto(42, 775, 'TradingView', '#363a45', `16px ${FUENTE}`)
    ]
};

const initCharts = () => {
    const chart1 = echarts.init(document.getElementById('chart1'));
    chart1.setOption(option);
};

window.addEventListener('load', () => {
    initCharts();
});
</script>
</body>
</html>
